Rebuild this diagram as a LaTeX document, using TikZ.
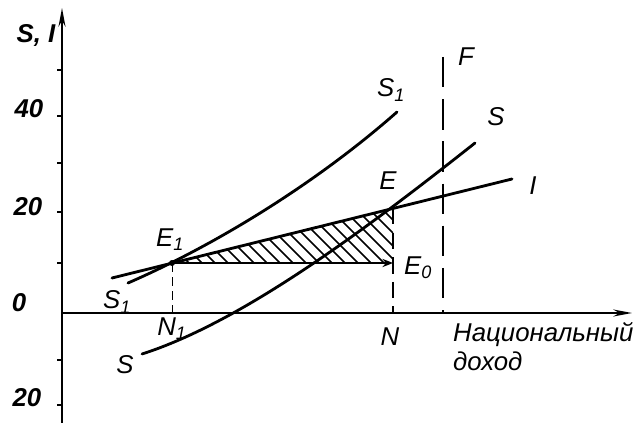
\documentclass[tikz,border=0pt]{standalone}
\usepackage{fontspec}
\setmainfont{Liberation Sans}
\usetikzlibrary{arrows.meta,positioning}

\begin{document}
\begin{tikzpicture}[x=0.03cm,y=-0.03cm,
  lbl/.style={font=\fontsize{22}{25}\selectfont\itshape, inner sep=0pt},
  num/.style={font=\fontsize{22}{25}\selectfont\bfseries\itshape, inner sep=0pt},
  curve/.style={line width=2.4pt, line cap=round},
  axis/.style={line width=1.6pt, -{Stealth[length=16pt,width=6pt]}},
  hatch/.style={line width=1.3pt},
  tick/.style={line width=1pt}
]
\useasboundingbox (0,0) rectangle (633,423);

% -------- Points --------
\coordinate (O) at (62,313);
\coordinate (ybot) at (62,423);
\coordinate (ytop) at (62,8);
\coordinate (xend) at (632,313);
\coordinate (E1) at (172,263);
\coordinate (E) at (393,208);
\coordinate (E0) at (393,263);
\coordinate (N1) at (172,313);
\coordinate (N) at (393,313);
\coordinate (Ftop) at (443,57);
\coordinate (Fbot) at (443,313);
\coordinate (Istart) at (112,278);
\coordinate (Iend) at (512,179);

% -------- Hatched triangle --------
\begin{scope}
\clip (E1) -- (E) -- (E0) -- cycle;
\foreach \x in {90,103,...,400}
  \draw[hatch] (\x,190) -- ++(80,80);
\end{scope}

% -------- Axes --------
\draw[axis] (ybot) -- (ytop);
\draw[axis] (O) -- (xend);
\foreach \y in {70,116,163,212,263,360,405}
  \draw[tick] (57,\y) -- (62,\y);

% -------- Curves --------
\draw[curve] (128,283) .. controls (220,243) and (320,180) .. (397,112); % S1
\draw[curve] (142,354) .. controls (242,322) and (365,230) .. (475,143); % S
\draw[curve] (Istart) -- (Iend); % I

% -------- Guides --------
\draw[line width=2pt, -{Stealth[length=9pt,width=7pt]}] (E1) -- (E0);
\fill (E1) circle (3);
\draw[line width=1.6pt, dash pattern=on 14pt off 7pt] (E) -- (N);
\draw[line width=0.8pt, dash pattern=on 8pt off 4pt] (E1) -- (N1);
\draw[line width=2pt, dash pattern=on 26pt off 10pt] (Ftop) -- (Fbot);

% -------- Labels --------
\node[num] (ylab) at (36,35) {S, I};
\node[num] (t40) at (29,109) {40};
\node[num] (t20) at (28,207) {20};
\node[num] (t0) at (19,303) {0};
\node[num] (tm20) at (27,398) {20};
\node[lbl] (S1top) at (391,90) {S\textsubscript{1}};
\node[lbl] (S1bot) at (117,302) {S\textsubscript{1}};
\node[lbl] (Stop) at (496,117) {S};
\node[lbl] (Sbot) at (125,365) {S};
\node[lbl] (Flab) at (466,57) {F};
\node[lbl] (Elab) at (388,181) {E};
\node[lbl] (Ilab) at (533,186) {I};
\node[lbl] (E1lab) at (170,240) {E\textsubscript{1}};
\node[lbl] (E0lab) at (418,268) {E\textsubscript{0}};
\node[lbl] (N1lab) at (172,329) {N\textsubscript{1}};
\node[lbl] (Nlab) at (390,337) {N};
\node[lbl, anchor=north west, align=left] (xlab) at (453,322)
  {Национальный\\доход};

\end{tikzpicture}
\end{document}
